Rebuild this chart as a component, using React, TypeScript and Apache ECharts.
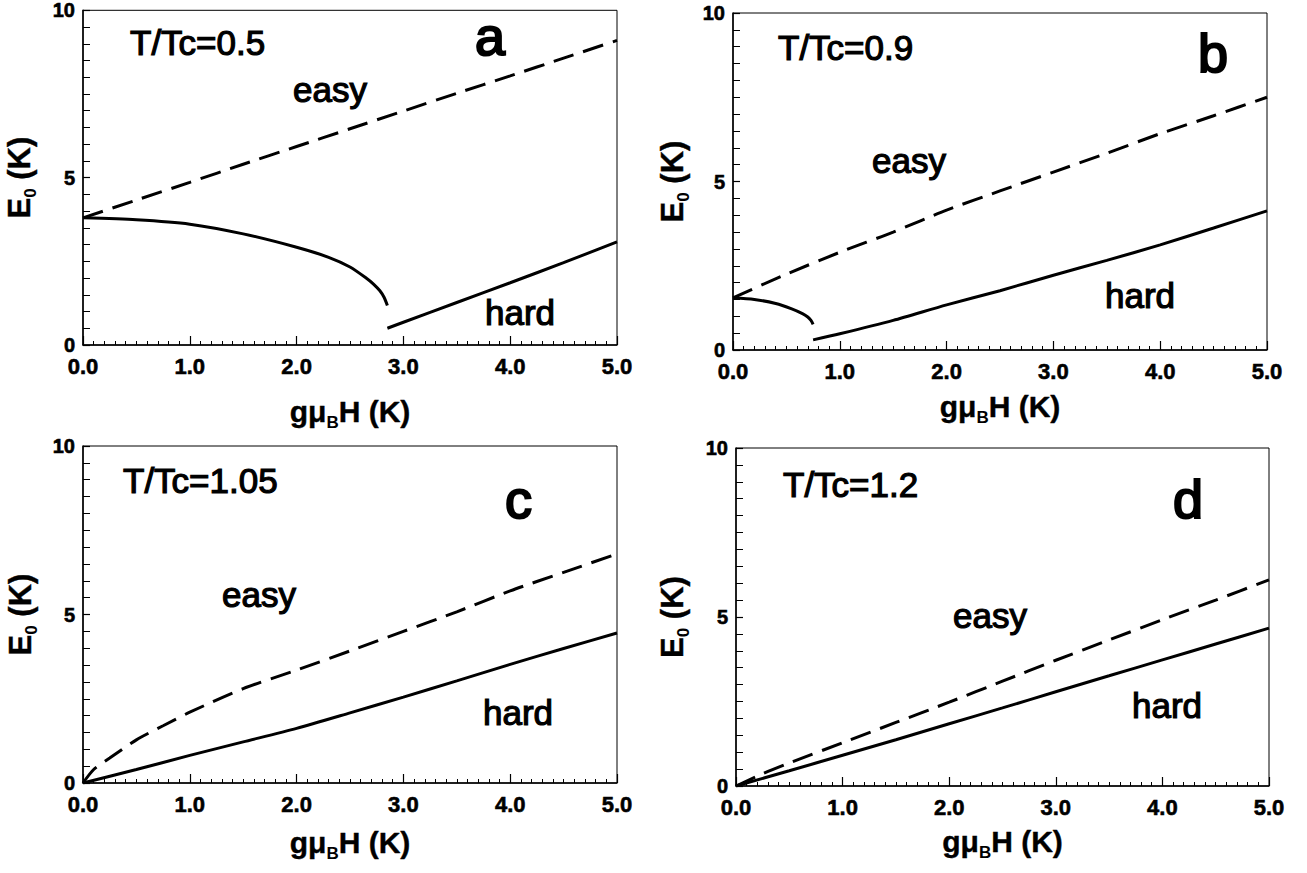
import React, { useEffect, useRef } from "react";
import * as echarts from "echarts";

const FONT = '"Liberation Sans", Arial, Helvetica, sans-serif';

// axis ranges (tick labels 0.0 … 5.0 and 0, 5, 10 come from the axes)
const xTickMin = 0;
const xTickMax = 5;
const yTickMin = 0;
const yTickMax = 10;

// ---- panel a : T/Tc = 0.5 ----
const aEasyX = [0, 0.5, 1.0, 1.5, 2.0, 2.5, 3.0, 3.5, 4.0, 4.5, 5.0];
const aEasyY = [3.8, 4.33, 4.86, 5.4, 5.93, 6.46, 6.99, 7.52, 8.04, 8.57, 9.1];
const aHard1X = [0, 0.5, 1.0, 1.5, 2.0, 2.3, 2.5, 2.66, 2.72, 2.78, 2.82, 2.85];
const aHard1Y = [3.8, 3.74, 3.61, 3.32, 2.92, 2.62, 2.33, 1.98, 1.82, 1.62, 1.42, 1.18];
const aHard2X = [2.85, 3.0, 3.5, 4.0, 4.5, 5.0];
const aHard2Y = [0.5, 0.68, 1.27, 1.86, 2.46, 3.08];

// ---- panel b : T/Tc = 0.9 ----
const bEasyX = [0, 0.5, 1.0, 1.5, 2.0, 2.5, 3.0, 3.5, 4.0, 4.5, 5.0];
const bEasyY = [1.55, 2.25, 2.9, 3.5, 4.15, 4.72, 5.28, 5.84, 6.42, 6.95, 7.5];
const bHard1X = [0, 0.2, 0.4, 0.55, 0.65, 0.7, 0.73, 0.75];
const bHard1Y = [1.55, 1.5, 1.38, 1.22, 1.08, 0.98, 0.88, 0.76];
const bHard2X = [0.75, 1.0, 1.5, 2.0, 2.5, 3.0, 3.5, 4.0, 4.5, 5.0];
const bHard2Y = [0.3, 0.48, 0.88, 1.34, 1.76, 2.22, 2.66, 3.12, 3.62, 4.13];

// ---- panel c : T/Tc = 1.05 ----
const cEasyX = [0, 0.1, 0.25, 0.5, 0.75, 1.0, 1.5, 2.0, 2.5, 3.0, 3.5, 4.0, 4.5, 5.0];
const cEasyY = [0, 0.4, 0.74, 1.28, 1.7, 2.1, 2.8, 3.35, 3.92, 4.5, 5.08, 5.7, 6.25, 6.8];
const cHardX = [0, 0.5, 1.0, 1.5, 2.0, 2.5, 3.0, 3.5, 4.0, 4.5, 5.0];
const cHardY = [0, 0.4, 0.82, 1.22, 1.62, 2.08, 2.55, 3.03, 3.52, 3.99, 4.45];

// ---- panel d : T/Tc = 1.2 ----
const dEasyX = [0, 0.25, 0.5, 1.0, 1.5, 2.0, 2.5, 3.0, 3.5, 4.0, 4.5, 5.0];
const dEasyY = [0, 0.36, 0.68, 1.28, 1.88, 2.48, 3.1, 3.72, 4.32, 4.92, 5.5, 6.1];
const dHardX = [0, 0.5, 1.0, 1.5, 2.0, 2.5, 3.0, 3.5, 4.0, 4.5, 5.0];
const dHardY = [0, 0.45, 0.91, 1.37, 1.84, 2.31, 2.79, 3.26, 3.73, 4.2, 4.67];

// panel annotations
const panelTitles = ["T/Tc=0.5", "T/Tc=0.9", "T/Tc=1.05", "T/Tc=1.2"];
const panelLetters = ["a", "b", "c", "d"];
const easyLabel = "easy";
const hardLabel = "hard";

const zip = (xs: number[], ys: number[]) => xs.map((x, i) => [x, ys[i]]);

export default function App() {
  const ref = useRef<HTMLDivElement>(null);

  useEffect(() => {
    document.body.style.margin = "0";
    if (!ref.current) return;
    const chart = echarts.init(ref.current, undefined, { renderer: "svg" });

    const grids = [
      { left: 83, top: 7, width: 534, height: 338 },
      { left: 733, top: 13, width: 534, height: 337 },
      { left: 83, top: 446, width: 534, height: 337 },
      { left: 736, top: 448, width: 533, height: 338 },
    ];
    const xNameGaps = [47, 37, 40, 36];
    const yNameGaps = [44, 41, 43, 44];

    const mkRich = (size: number) => ({
      n: { fontSize: size, fontWeight: "bold", fontFamily: FONT, color: "#000", textBorderColor: "#000", textBorderWidth: 0.4 },
      s: { fontSize: 17, fontWeight: "bold", fontFamily: FONT, color: "#000", padding: [22, 0, 0, 0] },
    });

    const xAxes = grids.map((_, i) => ({
      type: "value",
      gridIndex: i,
      min: xTickMin,
      max: xTickMax,
      interval: 1,
      name: "{n|gμ}{s|B}{n|H (K)}",
      nameLocation: "middle",
      nameGap: xNameGaps[i],
      nameTextStyle: { fontSize: 30, fontWeight: "bold", fontFamily: FONT, rich: mkRich(30) },
      axisLine: { show: true, onZero: false, lineStyle: { color: "#000", width: 1.5 } },
      axisTick: { show: true, inside: true, length: 9, lineStyle: { color: "#000", width: 1.2 } },
      minorTick: { show: true, splitNumber: 10, length: 4, lineStyle: { color: "#000", width: 1 } },
      splitLine: { show: false },
      axisLabel: {
        margin: 10,
        fontSize: 22,
        fontWeight: "bold",
        fontFamily: FONT,
        color: "#000",
        textBorderColor: "#000",
        textBorderWidth: 0.6,
        formatter: (v: number) => v.toFixed(1),
      },
    }));

    const yAxes = grids.map((_, i) => ({
      type: "value",
      gridIndex: i,
      min: yTickMin,
      max: yTickMax,
      interval: 5,
      name: "{n|E}{s|0}{n| (K)}",
      nameLocation: "middle",
      nameGap: yNameGaps[i],
      nameTextStyle: { fontSize: 31, fontWeight: "bold", fontFamily: FONT, rich: mkRich(31) },
      axisLine: { show: true, onZero: false, lineStyle: { color: "#000", width: 1.5 } },
      axisTick: { show: true, inside: true, length: 7, lineStyle: { color: "#000", width: 1.2 } },
      minorTick: { show: true, splitNumber: 10, length: 7, lineStyle: { color: "#000", width: 1 } },
      splitLine: { show: false },
      axisLabel: {
        margin: 8,
        fontSize: 20,
        fontWeight: "bold",
        fontFamily: FONT,
        color: "#000",
        textBorderColor: "#000",
        textBorderWidth: 0.6,
      },
    }));

    const dashed = { color: "#000", width: 3, type: [21, 10] };
    const solid = { color: "#000", width: 3, type: "solid" };
    const line = (idx: number, data: number[][], style: any) => ({
      type: "line",
      xAxisIndex: idx,
      yAxisIndex: idx,
      data,
      showSymbol: false,
      symbol: "none",
      smooth: 0.25,
      lineStyle: style,
      silent: true,
    });

    const series = [
      line(0, zip(aEasyX, aEasyY), dashed),
      line(0, zip(aHard1X, aHard1Y), solid),
      line(0, zip(aHard2X, aHard2Y), solid),
      line(1, zip(bEasyX, bEasyY), dashed),
      line(1, zip(bHard1X, bHard1Y), solid),
      line(1, zip(bHard2X, bHard2Y), solid),
      line(2, zip(cEasyX, cEasyY), dashed),
      line(2, zip(cHardX, cHardY), solid),
      line(3, zip(dEasyX, dEasyY), dashed),
      line(3, zip(dHardX, dHardY), solid),
    ];

    // annotation placement (left x, baseline y) in page pixels
    const titlePos = [[130, 55], [778, 60], [123, 493], [783, 497]];
    const letterPos = [[475, 55], [1198, 72], [505, 518], [1173, 518]];
    const easyPos = [[293, 102], [872, 173], [222, 607], [953, 628]];
    const hardPos = [[485, 325], [1105, 308], [483, 725], [1132, 718]];

    const txt = (text: string, p: number[], size: number, stroke: number) => ({
      type: "text",
      x: p[0],
      y: p[1] - 0.35 * size,
      silent: true,
      style: {
        text,
        fontSize: size,
        fontWeight: "normal",
        fontFamily: FONT,
        fill: "#000",
        stroke: "#000",
        lineWidth: stroke,
        align: "left",
        verticalAlign: "middle",
      },
    });

    const graphic: any[] = [];
    for (let i = 0; i < 4; i++) {
      graphic.push(txt(panelTitles[i], titlePos[i], 35, 1.2));
      graphic.push(txt(panelLetters[i], letterPos[i], 54, 2.2));
      graphic.push(txt(easyLabel, easyPos[i], 35, 1.2));
      graphic.push(txt(hardLabel, hardPos[i], 35, 1.2));
    }

    chart.setOption({
      animation: false,
      backgroundColor: "#fff",
      grid: grids.map((g) => ({ ...g, show: true, borderColor: "#000", borderWidth: 1, backgroundColor: "transparent" })),
      xAxis: xAxes,
      yAxis: yAxes,
      series,
      graphic,
    });

    return () => chart.dispose();
  }, []);

  return <div ref={ref} style={{ width: 1307, height: 873 }} />;
}
